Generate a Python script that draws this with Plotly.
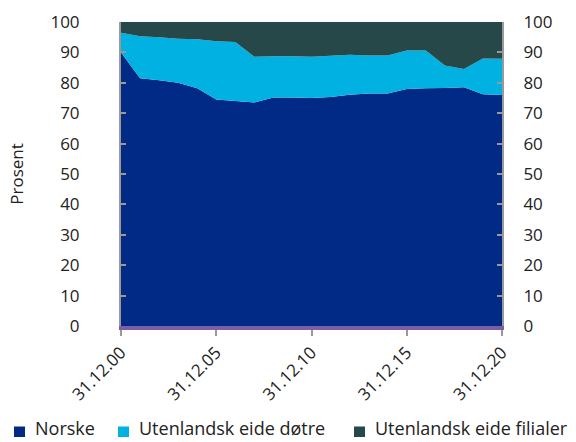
import plotly.graph_objects as go

# Andel av forvaltningskapital, prosent
dates = ['31.12.%02d' % y for y in range(0, 21)]
tick_dates = ['31.12.00', '31.12.05', '31.12.10', '31.12.15', '31.12.20']

norske = [90.0, 81.5, 80.8, 80.0, 78.2, 74.5, 74.0, 73.5, 75.2, 75.2, 75.0,
          75.3, 76.1, 76.5, 76.5, 78.0, 78.2, 78.3, 78.5, 76.2, 76.0]
dotre = [6.5, 13.8, 14.2, 14.5, 16.1, 19.2, 19.4, 15.1, 13.5, 13.5, 13.6,
         13.6, 13.1, 12.5, 12.5, 12.6, 12.4, 7.4, 6.0, 11.8, 11.9]
filialer = [3.5, 4.7, 5.0, 5.5, 5.7, 6.3, 6.6, 11.4, 11.3, 11.3, 11.4,
            11.1, 10.8, 11.0, 11.0, 9.4, 9.4, 14.3, 15.5, 12.0, 12.1]

series = [
    ('Norske', norske, '#002a86'),
    ('Utenlandsk eide døtre', dotre, '#00b1e1'),
    ('Utenlandsk eide filialer', filialer, '#264848'),
]

W, H = 576, 442
L, R, T, B = 121, 74, 22, 116
pw, ph = W - L - R, H - T - B

fig = go.Figure()
for name, vals, color in series:
    fig.add_trace(go.Scatter(
        x=dates, y=vals, name=name, stackgroup='one', mode='none',
        fillcolor=color, line=dict(width=0), hoverinfo='x+y+name',
        showlegend=False
    ))

# usynlig spor for aksen til hoeyre
fig.add_trace(go.Scatter(x=dates, y=norske, yaxis='y2', mode='none',
                         showlegend=False, hoverinfo='skip'))

# tegnforklaring under figuren (firkanter + tekst)
legend_x = [14, 118, 354]
for (name, vals, color), lx in zip(series, legend_x):
    fig.add_shape(type='rect', xref='paper', yref='paper',
                  x0=(lx - L) / pw, x1=(lx + 11 - L) / pw,
                  y0=(H - B - 437) / ph, y1=(H - B - 426.5) / ph,
                  fillcolor=color, line=dict(width=0))
    fig.add_annotation(text=name, xref='paper', yref='paper',
                       x=(lx + 20 - L) / pw, y=(H - B - 441) / ph,
                       xanchor='left', yanchor='bottom', showarrow=False,
                       borderpad=0,
                       font=dict(family='Open Sans', size=18, color='#222222'))

axis_font = dict(family='Open Sans', size=17, color='#222222')

fig.update_layout(
    width=W, height=H,
    margin=dict(l=L, r=R, t=T, b=B, autoexpand=False),
    paper_bgcolor='white', plot_bgcolor='white',
    font=axis_font,
    showlegend=False,
    xaxis=dict(
        type='category', tickmode='array', tickvals=tick_dates,
        ticktext=tick_dates, tickangle=-45, range=[0, 20],
        showgrid=False, zeroline=False, automargin=False,
        showline=True, linecolor='#7b5ea7', linewidth=4,
        ticks='outside', ticklen=6, tickcolor='#999999', tickwidth=2,
    ),
    yaxis=dict(
        range=[0, 100], dtick=10, showgrid=False, zeroline=False,
        showline=True, linecolor='#999999', linewidth=2, automargin=False,
        ticks='inside', ticklen=5, tickcolor='#999999', tickwidth=2,
        ticklabelstandoff=36,
        title=dict(text='Prosent', font=dict(size=17), standoff=22),
    ),
    yaxis2=dict(
        range=[0, 100], dtick=10, overlaying='y', side='right',
        showgrid=False, zeroline=False, automargin=False,
        showline=True, linecolor='#999999', linewidth=2,
        ticks='inside', ticklen=5, tickcolor='#999999', tickwidth=2,
        ticklabelstandoff=16,
    ),
)

fig.write_html('out.html', config={'displayModeBar': False},
               post_script="document.body.style.margin='0';")
